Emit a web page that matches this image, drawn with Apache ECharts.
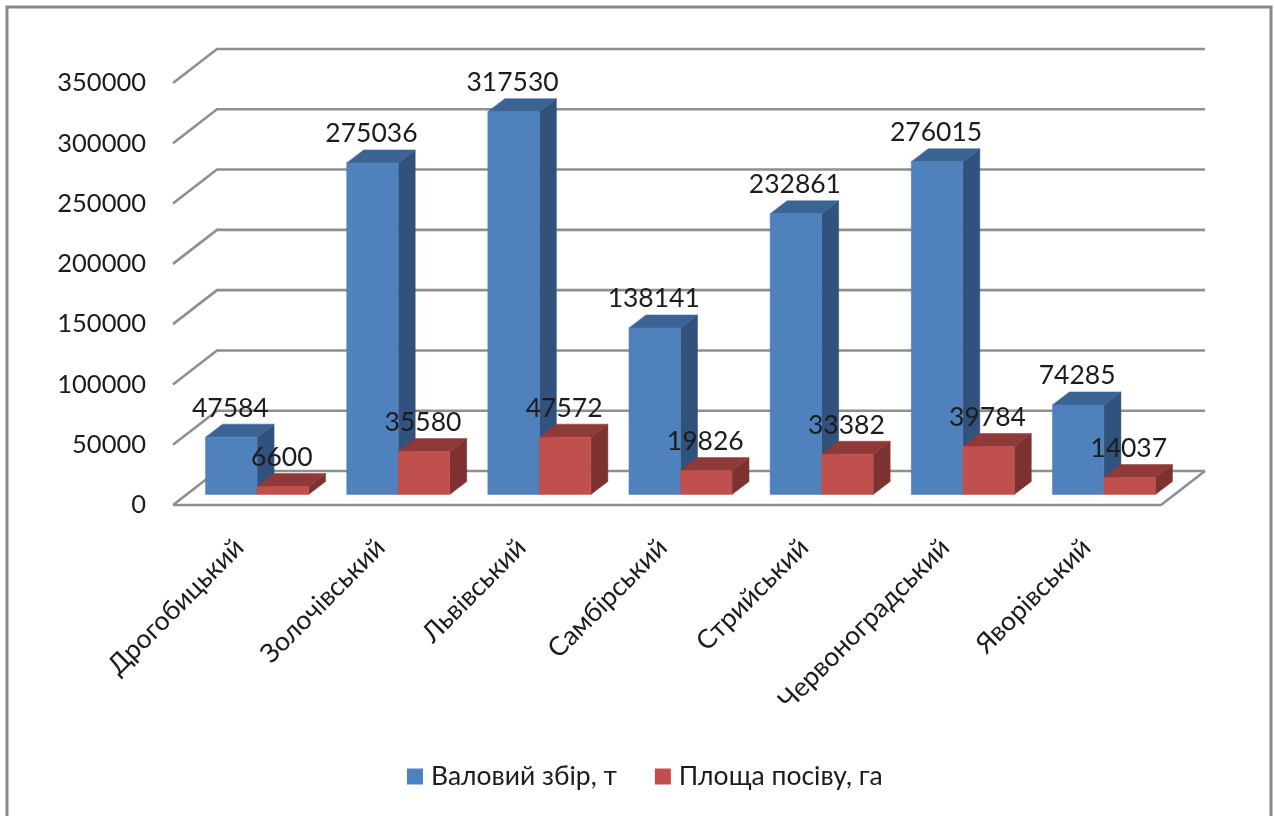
<!DOCTYPE html>
<html>
<head>
<meta charset="utf-8">
<style>
  html, body { margin: 0; padding: 0; background: #fff; overflow: hidden; }
  #chart { width: 1274px; height: 816px; }
</style>
<script src="https://cdn.jsdelivr.net/npm/echarts@6/dist/echarts.min.js"></script>
</head>
<body>
<div id="chart"></div>
<script>
// Зібрані дані по районах Львівщини
const categories = ['Дрогобицький', 'Золочівський', 'Львівський', 'Самбірський', 'Стрийський', 'Червоноградський', 'Яворівський'];
const grossHarvest = [47584, 275036, 317530, 138141, 232861, 276015, 74285];
const sownArea = [6600, 35580, 47572, 19826, 33382, 39784, 14037];
const axisTicks = [0, 50000, 100000, 150000, 200000, 250000, 300000, 350000];

const FONT = 'Lato, "Open Sans", sans-serif';
const TEXT = '#1c1c1c';
const WALL = '#8f8f8f';

// Oblique projection of the floor and of the columns standing on it
const FLOOR_DX = 44, FLOOR_DY = 34;
const BAR_DX = 17, BAR_DY = 13;
const BAR_SHARE = 0.365;

function poly(points, fill) {
  return { type: 'polygon', shape: { points }, style: { fill, stroke: fill, lineWidth: 0.5 } };
}

// Left wall diagonal and back wall line for one axis value
function renderWall(params, api) {
  const p = api.coord([0, api.value(0)]);
  const g = params.coordSys;
  const style = { stroke: WALL, lineWidth: 2.6, fill: 'none' };
  const line = (points) => ({ type: 'polyline', shape: { points }, style });
  const children = [line([
    [g.x, p[1]],
    [g.x + FLOOR_DX, p[1] - FLOOR_DY],
    [g.x + g.width + FLOOR_DX, p[1] - FLOOR_DY]
  ])];
  if (api.value(0) === 0) {
    children.push(line([
      [g.x, p[1]],
      [g.x + g.width, p[1]],
      [g.x + g.width + FLOOR_DX, p[1] - FLOOR_DY]
    ]));
  }
  return { type: 'group', children };
}

// One column as three visible faces plus its value label
function columnRenderer(side, colors) {
  return function (params, api) {
    const cat = api.value(0), val = api.value(1);
    const width = api.size([1, 0])[0] * BAR_SHARE;
    const ox = (FLOOR_DX - BAR_DX) / 2, oy = (FLOOR_DY - BAR_DY) / 2;
    const base = api.coord([cat, 0]), top = api.coord([cat, val]);
    const x0 = base[0] + ox + (side < 0 ? -width : 0), x1 = x0 + width;
    const yb = base[1] - oy, yt = top[1] - oy;
    return {
      type: 'group',
      children: [
        poly([[x1, yb], [x1 + BAR_DX, yb - BAR_DY], [x1 + BAR_DX, yt - BAR_DY], [x1, yt]], colors.side),
        poly([[x0, yt], [x1, yt], [x1 + BAR_DX, yt - BAR_DY], [x0 + BAR_DX, yt - BAR_DY]], colors.top),
        poly([[x0, yb], [x1, yb], [x1, yt], [x0, yt]], colors.front),
        {
          type: 'text',
          z2: 100,
          style: {
            x: (x0 + x1) / 2 - 1, y: yt - 29, text: String(val),
            font: '26.5px ' + FONT, fill: TEXT, align: 'center', verticalAlign: 'middle'
          }
        }
      ]
    };
  };
}

const blue = { front: '#4f81bd', top: '#3b6494', side: '#30527c' };
const red = { front: '#c0504d', top: '#8f3a38', side: '#7d3231' };

const chart = echarts.init(document.getElementById('chart'), null, { renderer: 'canvas' });
chart.setOption({
  animation: false,
  backgroundColor: '#fff',
  graphic: [{
    type: 'rect', silent: true, z: -1,
    shape: { x: 7, y: 7, width: 1264, height: 830 },
    style: { fill: '#fff', stroke: '#8a8a8a', lineWidth: 3 }
  }],
  grid: { left: 173, top: 83, width: 988, height: 422, containLabel: false },
  xAxis: {
    type: 'category',
    data: categories,
    axisLine: { show: false },
    axisTick: { show: false },
    axisLabel: {
      interval: 0, rotate: 45, margin: 34, padding: [0, 6, 0, 0],
      fontFamily: FONT, fontSize: 26.5, color: TEXT
    }
  },
  yAxis: {
    type: 'value',
    min: 0, max: 350000, interval: 50000,
    axisLine: { show: false },
    axisTick: { show: false },
    splitLine: { show: false },
    axisLabel: { margin: 27, fontFamily: FONT, fontSize: 25.5, color: TEXT, formatter: (v) => String(v) }
  },
  legend: {
    left: 402, top: 758,
    itemWidth: 16, itemHeight: 16, itemGap: 38,
    icon: 'rect',
    textStyle: { fontFamily: FONT, fontSize: 26.5, color: TEXT, padding: [0, 0, 0, 3] },
    data: ['Валовий збір, т', 'Площа посіву, га']
  },
  series: [
    {
      type: 'custom', silent: true, z: 1,
      coordinateSystem: 'cartesian2d',
      renderItem: renderWall,
      data: axisTicks.map((t) => [t]),
      encode: { y: 0 },
      tooltip: { show: false }
    },
    {
      name: 'Валовий збір, т', type: 'custom', z: 2,
      coordinateSystem: 'cartesian2d',
      itemStyle: { color: blue.front },
      renderItem: columnRenderer(-1, blue),
      data: grossHarvest.map((v, i) => [i, v]),
      encode: { x: 0, y: 1 }
    },
    {
      name: 'Площа посіву, га', type: 'custom', z: 2,
      coordinateSystem: 'cartesian2d',
      itemStyle: { color: red.front },
      renderItem: columnRenderer(1, red),
      data: sownArea.map((v, i) => [i, v]),
      encode: { x: 0, y: 1 }
    }
  ]
});
</script>
</body>
</html>
